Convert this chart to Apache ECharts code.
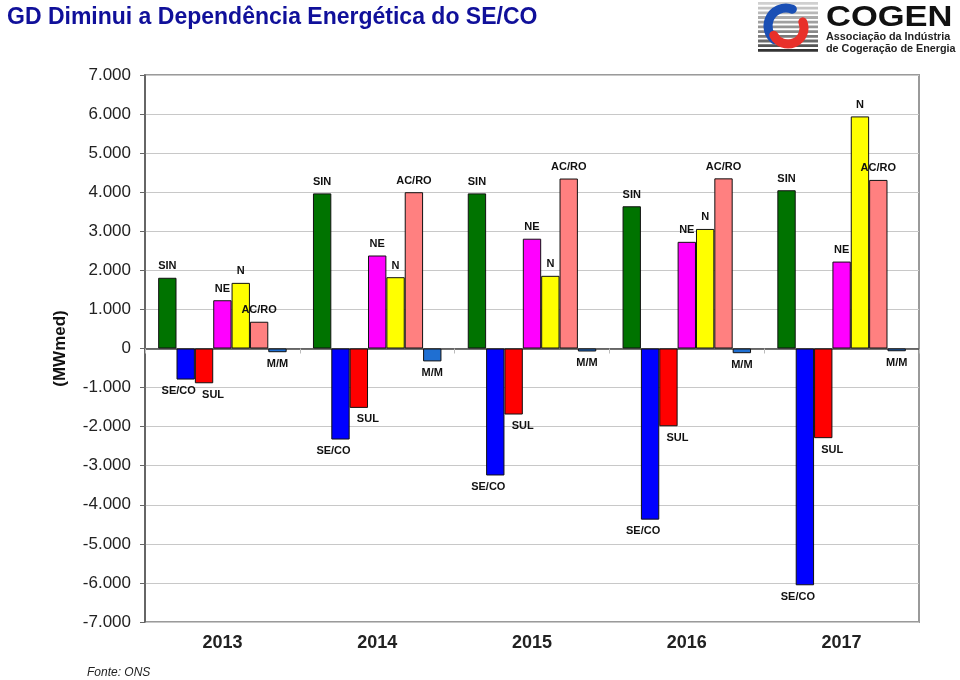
<!DOCTYPE html>
<html>
<head>
<meta charset="utf-8">
<script src="https://cdn.jsdelivr.net/npm/echarts@6/dist/echarts.min.js"></script>
<style>
html,body{margin:0;padding:0;background:#fff;}
#main{width:960px;height:680px;}
</style>
</head>
<body>
<div id="main"></div>
<script>
// ---- data ----
const years = ['2013', '2014', '2015', '2016', '2017'];
const seriesNames = ['SIN', 'SE/CO', 'SUL', 'NE', 'N', 'AC/RO', 'M/M'];
const SIN   = [1810, 3970, 3970, 3640, 4050];
const SECO  = [-795, -2330, -3250, -4380, -6060];
const SUL   = [-890, -1520, -1690, -1990, -2295];
const NE    = [1235, 2380, 2810, 2730, 2225];
const N     = [1680, 1825, 1860, 3060, 5940];
const ACRO  = [685, 4000, 4350, 4355, 4315];
const MM    = [-95, -330, -77, -120, -70];
const yTicks = [-7000, 7000, 1000]; // min, max, step

const values = [SIN, SECO, SUL, NE, N, ACRO, MM];
const colors = ['#007300', '#0000ff', '#ff0000', '#ff00ff', '#ffff00', '#ff8080', '#1f6fd2'];
const labelOffsets = [[0,0], [-7,0], [9,0], [0,0], [0,0], [0,0], [0,0]];

function fmt(v) {
  const s = Math.abs(v).toString().replace(/\B(?=(\d{3})+(?!\d))/g, '.');
  return (v < 0 ? '-' : '') + s;
}

const series = seriesNames.map((name, i) => ({
  name: name,
  type: 'bar',
  xAxisIndex: 0,
  yAxisIndex: 0,
  barGap: '0%',
  barCategoryGap: '17%',
  itemStyle: { color: colors[i], borderColor: '#111', borderWidth: 1 },
  label: {
    show: true,
    formatter: name,
    fontFamily: 'Liberation Sans, Arial, sans-serif',
    fontWeight: 'bold',
    fontSize: 11,
    color: '#111',
    distance: 6,
    offset: labelOffsets[i]
  },
  data: values[i].map(v => ({ value: v, label: { position: v < 0 ? 'bottom' : 'top' } }))
}));

const chart = echarts.init(document.getElementById('main'), null, { renderer: 'canvas' });

chart.setOption({
  animation: false,
  backgroundColor: '#ffffff',
  title: {
    text: 'GD Diminui a Dependência Energética do SE/CO',
    left: 2,
    top: 1,
    textStyle: {
      fontFamily: 'Liberation Sans, Arial, sans-serif',
      fontWeight: 'bold',
      fontSize: 23,
      color: '#10109a'
    }
  },
  grid: {
    left: 145, right: 41, top: 75, bottom: 58,
    show: true, borderColor: '#9a9a9a', borderWidth: 2,
    containLabel: false
  },
  xAxis: [
    {
      type: 'category',
      data: years,
      position: 'bottom',
      axisLine: { onZero: true, lineStyle: { color: '#444', width: 1.5 } },
      axisTick: { show: true, length: 5, inside: false, lineStyle: { color: '#bbb' } },
      axisLabel: { show: false },
      splitLine: { show: false }
    },
    {
      type: 'category',
      data: years,
      position: 'bottom',
      axisLine: { show: false, onZero: false },
      axisTick: { show: false },
      axisLabel: {
        show: true,
        margin: 12,
        fontFamily: 'Liberation Sans Narrow, Arial Narrow, Liberation Sans, sans-serif',
        fontWeight: 'bold',
        fontSize: 18,
        color: '#222'
      },
      splitLine: { show: false }
    }
  ],
  yAxis: {
    type: 'value',
    min: yTicks[0],
    max: yTicks[1],
    interval: yTicks[2],
    name: '(MWmed)',
    nameLocation: 'middle',
    nameRotate: 90,
    nameGap: 76,
    nameTextStyle: {
      fontFamily: 'Liberation Sans, Arial, sans-serif',
      fontWeight: 'bold',
      fontSize: 17,
      color: '#111'
    },
    axisLine: { show: true, lineStyle: { color: '#555', width: 1.5 } },
    axisTick: { show: true, length: 5, lineStyle: { color: '#666' } },
    axisLabel: {
      formatter: fmt,
      margin: 14,
      fontFamily: 'Liberation Sans, Arial, sans-serif',
      fontSize: 17,
      color: '#222'
    },
    splitLine: { show: true, lineStyle: { color: '#c8c8c8', width: 1 } }
  },
  series: series,
  graphic: [
    {
      type: 'text',
      left: 87,
      top: 667,
      style: {
        text: 'Fonte: ONS',
        font: 'italic 12px Liberation Sans, Arial, sans-serif',
        fill: '#222'
      }
    },
    {
      type: 'group',
      left: 758,
      top: 2,
      children: [
        ...[0,1,2,3,4,5,6,7,8,9,10].map(k => ({
          type: 'rect',
          shape: { x: 2, y: 2 + k * 4.7, width: 60, height: 2.8 },
          style: { fill: ['#d0d0d0','#c4c4c4','#b8b8b8','#acacac','#a0a0a0','#949494','#888','#7a7a7a','#6a6a6a','#555','#333'][k] }
        })),
        {
          type: 'arc',
          shape: { cx: 30, cy: 26, r: 18, startAngle: -Math.PI / 2.6, endAngle: Math.PI * 0.72, clockwise: false },
          style: { stroke: '#1a4fb5', lineWidth: 9, fill: null, lineCap: 'round' }
        },
        {
          type: 'arc',
          shape: { cx: 32, cy: 28, r: 16, startAngle: -Math.PI / 8, endAngle: Math.PI * 0.85, clockwise: true },
          style: { stroke: '#e8302a', lineWidth: 9, fill: null, lineCap: 'round' }
        }
      ]
    },
    {
      type: 'text',
      x: 826,
      y: 3,
      scaleX: 1.15,
      style: {
        text: 'COGEN',
        font: 'bold 30px Liberation Sans, Arial, sans-serif',
        fill: '#111'
      }
    },
    {
      type: 'text',
      x: 826,
      y: 32,
      style: {
        text: 'Associação da Indústria',
        font: 'bold 10.8px Liberation Sans, Arial, sans-serif',
        fill: '#222'
      }
    },
    {
      type: 'text',
      x: 826,
      y: 44,
      style: {
        text: 'de Cogeração de Energia',
        font: 'bold 10.8px Liberation Sans, Arial, sans-serif',
        fill: '#222'
      }
    }
  ]
});
</script>
</body>
</html>
